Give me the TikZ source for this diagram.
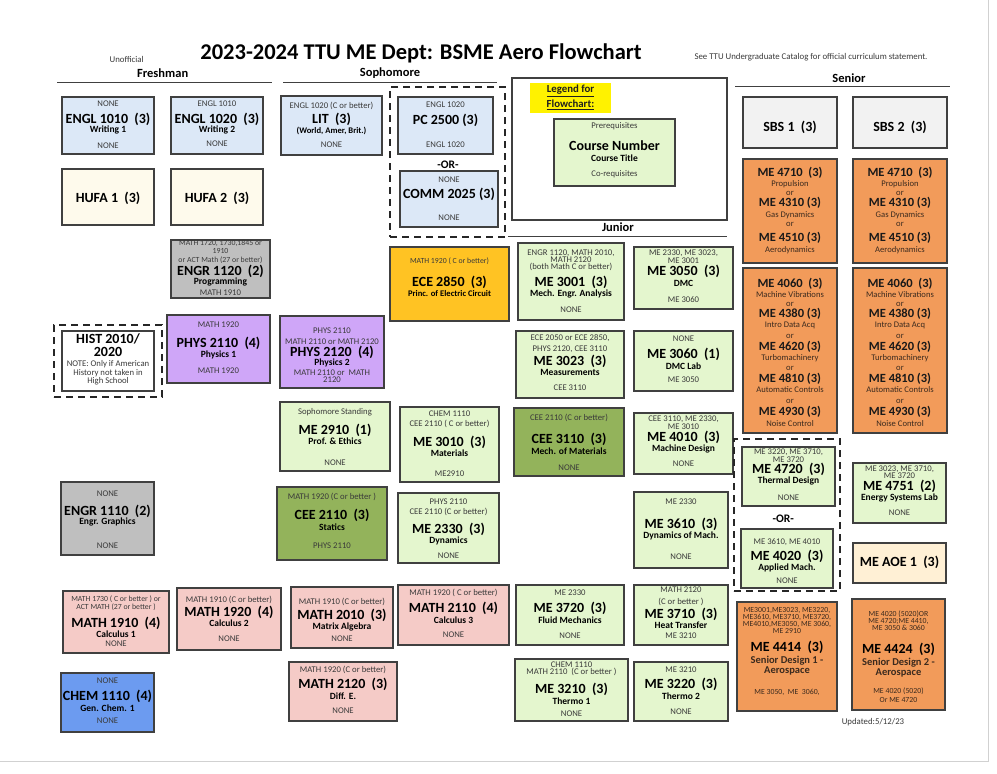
\documentclass[tikz,border=0pt]{standalone}
\usepackage{fontspec}
\setmainfont{Carlito}
\definecolor{blu}{HTML}{DCE8F7}
\definecolor{crm}{HTML}{FEFAEC}
\definecolor{gry}{HTML}{BFBFBF}
\definecolor{lav}{HTML}{CFA6F8}
\definecolor{gold}{HTML}{FFC323}
\definecolor{lgr}{HTML}{E4F6CE}
\definecolor{olv}{HTML}{93B35B}
\definecolor{pnk}{HTML}{F5CBC7}
\definecolor{chm}{HTML}{6C9BF0}
\definecolor{org}{HTML}{F29B5A}
\definecolor{sbs}{HTML}{F2F2F2}
\definecolor{aoe}{HTML}{FFF0D5}
\definecolor{bd}{HTML}{404040}
\definecolor{tg}{HTML}{3A3A3A}
\definecolor{tb}{HTML}{3B2A1E}
\newcounter{tn}
\newcommand\bx[6]{\node[box,fill=#6,minimum width={(#4-#2)*1pt},minimum height={(#5-#3)*1pt}] (#1) at ({(#2+#4)/2},{(#3+#5)/2}) {};}
\newcommand\dbx[5]{\node[dbox,minimum width={(#4-#2)*1pt},minimum height={(#5-#3)*1pt}] (#1) at ({(#2+#4)/2},{(#3+#5)/2}) {};}
\newcommand\tx[4]{\stepcounter{tn}\node[#1] (t\arabic{tn}) at (#2,#3) {#4};}
\tikzset{
  box/.style={draw=bd, line width=1.2pt, inner sep=0pt, outer sep=0pt},
  dbox/.style={draw=black!85, line width=1.3pt, dash pattern=on 7pt off 5pt, inner sep=0pt},
  pq/.style={font=\fontsize{8.7}{9}\selectfont, text=tg, inner sep=0pt},
  pqm/.style={text=tg, inner sep=0pt, align=center, font=\fontsize{8.7}{#1}\selectfont},
  pqs/.style={font=\fontsize{7.8}{8}\selectfont, text=tg, inner sep=0pt},
  pqsm/.style={text=tg, inner sep=0pt, align=center, font=\fontsize{7.8}{#1}\selectfont},
  pqom/.style={text=tb, inner sep=0pt, align=center, font=\fontsize{7.8}{#1}\selectfont},
  cn/.style={font=\fontsize{14}{15}\selectfont\bfseries, inner sep=0pt},
  cno/.style={font=\fontsize{12.5}{13}\selectfont\bfseries, text=black!90, inner sep=0pt},
  ct/.style={font=\fontsize{9.5}{10}\selectfont\bfseries, inner sep=0pt},
  cts/.style={font=\fontsize{8.6}{9}\selectfont\bfseries, inner sep=0pt},
  ctom/.style={text=tb, inner sep=0pt, align=center, font=\fontsize{10.5}{#1}\selectfont\bfseries},
  pom/.style={text=tb, inner sep=0pt, align=center, font=\fontsize{8.6}{#1}\selectfont},
  orr/.style={font=\fontsize{11.5}{12}\selectfont\bfseries, inner sep=0pt},
  leg/.style={font=\fontsize{10.8}{11}\selectfont\bfseries, text=black!88, inner sep=0pt},
  sm/.style={font=\fontsize{8.8}{9}\selectfont, text=tg, inner sep=0pt},
  yr/.style={font=\fontsize{12.5}{13}\selectfont\bfseries, inner sep=0pt},
  hd/.style={font=\fontsize{22.5}{24}\selectfont\bfseries, inner sep=0pt},
  hl/.style={draw=bd, line width=1.2pt},
}
\begin{document}
\begin{tikzpicture}[x=1pt,y=-1pt]
\useasboundingbox (0,0) rectangle (997,774);
\fill[white] (0,0) rectangle (997,774);
\draw[black!18, line width=1pt] (988,0) -- (988,761) -- (0,761);
% headers
\tx{hd}{421}{53}{2023-2024 TTU ME Dept: BSME Aero Flowchart}
\tx{sm}{126.7}{59}{Unofficial}
\tx{sm}{811}{57}{See TTU Undergraduate Catalog for official curriculum statement.}
\tx{yr}{162.7}{73.3}{Freshman}
\tx{yr}{390}{73.3}{Sophomore}
\tx{yr}{849}{77.7}{Senior}
\tx{yr}{618}{227}{Junior}
\draw[hl] (57,82.5) -- (272,82.5);
\draw[hl] (283,82.5) -- (497,82.5);
\draw[hl] (735,86.5) -- (950,86.5);
\draw[hl] (508,236.5) -- (727,236.5);
% Freshman
\bx{engl1010}{62}{97}{154}{154}{blu}
\tx{pq}{108}{104}{NONE}
\tx{cn}{108}{119}{ENGL 1010~~(3)}
\tx{ct}{108}{130}{Writing 1}
\tx{pq}{108}{146}{NONE}
\bx{engl1020}{171}{97}{263}{154}{blu}
\tx{pq}{217}{104}{ENGL 1010}
\tx{cn}{217}{119}{ENGL 1020~~(3)}
\tx{ct}{217}{130}{Writing 2}
\tx{pq}{217}{144}{NONE}
\bx{hufa1}{62}{169}{154}{225}{crm}
\tx{cn}{108}{198}{HUFA 1~~(3)}
\bx{hufa2}{171}{169}{263}{225}{crm}
\tx{cn}{217}{198}{HUFA 2~~(3)}
\bx{engr1120}{171}{240}{270}{298}{gry}
\tx{pqsm=8.5}{220.5}{251.5}{MATH 1720, 1730,1845 or\\1910\\or ACT Math (27 or better)}
\tx{cn}{220.5}{271.5}{ENGR 1120~~(2)}
\tx{ct}{220.5}{282}{Programming}
\tx{pq}{220.5}{292.5}{MATH 1910}
\dbx{histd}{54}{325}{162}{397}
\bx{hist}{62}{331}{154}{391}{white}
\tx{cn}{108}{339}{HIST 2010/}
\tx{cn}{108}{352.3}{2020}
\tx{pqm=7.2}{108}{372.8}{NOTE: Only if American\\History not taken in\\High School}
\bx{phys2110}{167}{315}{270}{383}{lav}
\tx{pq}{218.5}{324.3}{MATH 1920}
\tx{cn}{218.5}{343.3}{PHYS 2110~~(4)}
\tx{ct}{218.5}{354.5}{Physics 1}
\tx{pq}{218.5}{371}{MATH 1920}
\bx{engr1110}{61}{482}{154}{555}{gry}
\tx{pq}{107.5}{494}{NONE}
\tx{cn}{107.5}{511}{ENGR 1110~~(2)}
\tx{ct}{107.5}{522}{Engr. Graphics}
\tx{pq}{107.5}{546}{NONE}
\bx{math1910}{63}{591}{169}{653}{pnk}
\tx{pqsm=5.9}{116}{602.8}{MATH 1730 ( C or better ) or\\ACT MATH (27 or better )}
\tx{cn}{116}{623.3}{MATH 1910~~(4)}
\tx{ct}{116}{634.3}{Calculus 1}
\tx{pq}{116}{644}{NONE}
\bx{math1920}{177}{588}{281}{650}{pnk}
\tx{pq}{229}{600}{MATH 1910 (C or better)}
\tx{cn}{229}{612.3}{MATH 1920~~(4)}
\tx{ct}{229}{623.3}{Calculus 2}
\tx{pq}{229}{638.3}{NONE}
\bx{chem1110}{61}{673}{154}{732}{chm}
\tx{pq}{107.5}{681}{NONE}
\tx{cn}{107.5}{696.7}{CHEM 1110~~(4)}
\tx{ct}{107.5}{707.7}{Gen. Chem. 1}
\tx{pq}{107.5}{721}{NONE}
% Sophomore
\bx{lit}{281}{96}{382}{155}{blu}
\tx{pq}{331.5}{105.5}{ENGL 1020 (C or better)}
\tx{cn}{331.5}{119}{LIT~~(3)}
\tx{cts}{331.5}{130.5}{(World, Amer, Brit.)}
\tx{pq}{331.5}{144.3}{NONE}
\dbx{commd}{390}{87}{505}{237}
\bx{pc2500}{398}{97}{493}{154}{blu}
\tx{pq}{445.5}{104.3}{ENGL 1020}
\tx{cn}{445.5}{120.7}{PC 2500 (3)}
\tx{pq}{445.5}{144.3}{ENGL 1020}
\tx{orr}{448}{164.3}{-OR-}
\bx{comm2025}{400}{171}{498}{227}{blu}
\tx{pq}{449}{179.3}{NONE}
\tx{cn}{449}{194}{COMM 2025 (3)}
\tx{pq}{449}{217.3}{NONE}
\bx{ece2850}{390}{247}{509}{321}{gold}
\tx{pqs}{449.5}{260.7}{MATH 1920 ( C or better)}
\tx{cn}{449.5}{282.3}{ECE 2850~~(3)}
\tx{cts}{449.5}{294}{Princ. of Electric Circuit}
\bx{phys2120}{280}{316}{384}{388}{lav}
\tx{pq}{332}{330.5}{PHYS 2110}
\tx{pq}{332}{341.5}{MATH 2110 or MATH 2120}
\tx{cn}{332}{352.3}{PHYS 2120~~(4)}
\tx{ct}{332}{362.7}{Physics 2}
\tx{pqm=7.3}{332}{376.4}{MATH 2110 or~ MATH\\2120}
\bx{me2910}{280}{402}{390}{471}{lgr}
\tx{pq}{335}{412.7}{Sophomore Standing}
\tx{cn}{335}{430.7}{ME 2910~~(1)}
\tx{ct}{335}{441.5}{Prof. \& Ethics}
\tx{pq}{335}{462.3}{NONE}
\bx{me3010}{400}{407}{499}{482}{lgr}
\tx{pq}{449.5}{414}{CHEM 1110}
\tx{pq}{449.5}{424.3}{CEE 2110 ( C or better)}
\tx{cn}{449.5}{442}{ME 3010~~(3)}
\tx{ct}{449.5}{453.5}{Materials}
\tx{pq}{449.5}{473.3}{ME2910}
\bx{cee2110}{277}{487}{387}{560}{olv}
\tx{pq}{332}{496.7}{MATH 1920 (C or better )}
\tx{cn}{332}{515.5}{CEE 2110~~(3)}
\tx{ct}{332}{527}{Statics}
\tx{pq}{332}{545.7}{PHYS 2110}
\bx{me2330}{398}{493}{499}{563}{lgr}
\tx{pq}{448.5}{501.7}{PHYS 2110}
\tx{pq}{448.5}{512.3}{CEE 2110 (C or better)}
\tx{cn}{448.5}{529.5}{ME 2330~~(3)}
\tx{ct}{448.5}{541}{Dynamics}
\tx{pq}{448.5}{556}{NONE}
\bx{math2010}{291}{587}{393}{648}{pnk}
\tx{pq}{342}{602.3}{MATH 1910 (C or better)}
\tx{cn}{342}{615}{MATH 2010~~(3)}
\tx{ct}{342}{626.7}{Matrix Algebra}
\tx{pq}{342}{639}{NONE}
\bx{math2110}{398}{585}{509}{645}{pnk}
\tx{pq}{453.5}{592.7}{MATH 1920 ( C or better)}
\tx{cn}{453.5}{608.3}{MATH 2110~~(4)}
\tx{ct}{453.5}{620}{Calculus 3}
\tx{pq}{453.5}{635}{NONE}
\bx{math2120}{289}{662}{397}{721}{pnk}
\tx{pq}{343}{670}{MATH 1920 (C or better)}
\tx{cn}{343}{684.3}{MATH 2120~~(3)}
\tx{ct}{343}{696}{Diff. E.}
\tx{pq}{343}{710.7}{NONE}
% Legend
\node[draw=bd, line width=2.5pt, fill=white, minimum width=215pt, minimum height=142pt, inner sep=0pt] (legend) at (619.5,149) {};
\node[fill=yellow, minimum width=81pt, minimum height=30pt, inner sep=0pt] (legtag) at (570.5,98) {};
\tx{leg}{570.5}{91}{\underline{Legend for}}
\tx{leg}{570.5}{105}{\underline{Flowchart:}}
\bx{legbox}{554}{119}{675}{186}{lgr}
\tx{pq}{614.5}{126.7}{Prerequisites}
\tx{cn}{614.5}{146}{Course Number}
\tx{ct}{614.5}{157.7}{Course Title}
\tx{pq}{614.5}{174.3}{Co-requisites}
% Junior
\bx{me3001}{518}{243}{624}{320}{lgr}
\tx{pqm=7}{571}{260}{ENGR 1120, MATH 2010,\\MATH 2120\\(both Math C or better)}
\tx{cn}{571}{282.3}{ME 3001~~(3)}
\tx{ct}{571}{294}{Mech. Engr. Analysis}
\tx{pq}{571}{309.3}{NONE}
\bx{me3050}{634}{247}{733}{309}{lgr}
\tx{pqm=6.5}{683.5}{256.4}{ME 2330, ME 3023,\\ME 3001}
\tx{cn}{683.5}{271.7}{ME 3050~~(3)}
\tx{ct}{683.5}{283.3}{DMC}
\tx{pq}{683.5}{300}{ME 3060}
\bx{me3023}{516}{331}{624}{398}{lgr}
\tx{pq}{570}{338.3}{ECE 2050 or ECE 2850,}
\tx{pq}{570}{349.5}{PHYS 2120, CEE 3110}
\tx{cn}{570}{361}{ME 3023~~(3)}
\tx{ct}{570}{372.3}{Measurements}
\tx{pq}{570}{387.3}{CEE 3110}
\bx{me3060}{634}{331}{733}{391}{lgr}
\tx{pq}{683.5}{338.3}{NONE}
\tx{cn}{683.5}{354}{ME 3060~~(1)}
\tx{ct}{683.5}{365.7}{DMC Lab}
\tx{pq}{683.5}{380}{ME 3050}
\bx{cee3110}{514}{408}{624}{476}{olv}
\tx{pq}{569}{417.7}{CEE 2110 (C or better)}
\tx{cn}{569}{439}{CEE 3110~~(3)}
\tx{ct}{569}{450.7}{Mech. of Materials}
\tx{pq}{569}{467.7}{NONE}
\bx{me4010}{634}{413}{733}{474}{lgr}
\tx{pqm=6.5}{683.5}{423}{CEE 3110, ME 2330,\\ME 3010}
\tx{cn}{683.5}{437}{ME 4010~~(3)}
\tx{ct}{683.5}{448.5}{Machine Design}
\tx{pq}{683.5}{464}{NONE}
\bx{me3610}{634}{492}{728}{568}{lgr}
\tx{pq}{681}{501.7}{ME 2330}
\tx{cn}{681}{524}{ME 3610~~(3)}
\tx{ct}{681}{535.7}{Dynamics of Mach.}
\tx{pq}{681}{557}{NONE}
\bx{me3720}{516}{585}{624}{645}{lgr}
\tx{pq}{570}{592.7}{ME 2330}
\tx{cn}{570}{608.3}{ME 3720~~(3)}
\tx{ct}{570}{620}{Fluid Mechanics}
\tx{pq}{570}{635.7}{NONE}
\bx{me3710}{634}{585}{728}{645}{lgr}
\tx{pq}{681}{590}{MATH 2120}
\tx{pq}{681}{601.7}{(C or better )}
\tx{cn}{681}{614}{ME 3710~~(3)}
\tx{ct}{681}{625.5}{Heat Transfer}
\tx{pq}{681}{636}{ME 3210}
\bx{me3210}{515}{659}{628}{721}{lgr}
\tx{pqm=7.6}{571.5}{668.6}{CHEM 1110\\MATH 2110~ (C or better )}
\tx{cn}{571.5}{689.3}{ME 3210~~(3)}
\tx{ct}{571.5}{701}{Thermo 1}
\tx{pq}{571.5}{714}{NONE}
\bx{me3220}{634}{662}{728}{721}{lgr}
\tx{pq}{681}{670}{ME 3210}
\tx{cn}{681}{684}{ME 3220~~(3)}
\tx{ct}{681}{695.7}{Thermo 2}
\tx{pq}{681}{711.7}{NONE}
% Senior
\bx{sbs1}{743}{97}{837}{148}{sbs}
\tx{cn}{790}{127.3}{SBS 1~~(3)}
\bx{sbs2}{853}{97}{947}{148}{sbs}
\tx{cn}{900}{127.3}{SBS 2~~(3)}
\foreach \cx/\xa/\xb in {790/743/837, 900/853/947}{
  \bx{oa\cx}{\xa}{159}{\xb}{263}{org}
  \tx{cno}{\cx}{172.7}{ME 4710~~(3)}
  \tx{pom=8.7}{\cx}{188.3}{Propulsion\\or}
  \tx{cno}{\cx}{203.3}{ME 4310 (3)}
  \tx{pom=9}{\cx}{218.8}{Gas Dynamics\\or}
  \tx{cno}{\cx}{238.3}{ME 4510 (3)}
  \tx{pom=9}{\cx}{250.7}{Aerodynamics}
  \bx{ob\cx}{\xa}{268}{\xb}{433}{org}
  \tx{cno}{\cx}{284.3}{ME 4060~~(3)}
  \tx{pom=9}{\cx}{298.8}{Machine Vibrations\\or}
  \tx{cno}{\cx}{314.3}{ME 4380 (3)}
  \tx{pom=11}{\cx}{330.5}{Intro Data Acq\\or}
  \tx{cno}{\cx}{347.3}{ME 4620 (3)}
  \tx{pom=10}{\cx}{362.3}{Turbomachinery\\or}
  \tx{cno}{\cx}{378.7}{ME 4810 (3)}
  \tx{pom=11.4}{\cx}{395}{Automatic Controls\\or}
  \tx{cno}{\cx}{411.7}{ME 4930 (3)}
  \tx{pom=9}{\cx}{423.3}{Noise Control}
}
\dbx{med}{734}{439}{840}{591}
\bx{me4720}{742}{447}{835}{506}{lgr}
\tx{pqm=6.7}{788.5}{455.7}{ME 3220, ME 3710,\\ME 3720}
\tx{cn}{788.5}{469.5}{ME 4720~~(3)}
\tx{ct}{788.5}{481}{Thermal Design}
\tx{pq}{788.5}{497.7}{NONE}
\tx{orr}{783.3}{518.3}{-OR-}
\bx{me4020}{741}{529}{833}{588}{lgr}
\tx{pq}{787}{541.7}{ME 3610, ME 4010}
\tx{cn}{787}{556.7}{ME 4020~~(3)}
\tx{ct}{787}{567.5}{Applied Mach.}
\tx{pq}{787}{581}{NONE}
\bx{me4751}{853}{463}{946}{523}{lgr}
\tx{pqm=6.7}{899.5}{472.3}{ME 3023, ME 3710,\\ME 3720}
\tx{cn}{899.5}{486.7}{ME 4751~~(2)}
\tx{ct}{899.5}{498.3}{Energy Systems Lab}
\tx{pq}{899.5}{512.3}{NONE}
\bx{aoe1}{853}{543}{946}{583}{aoe}
\tx{cn}{899.5}{562.7}{ME AOE 1~~(3)}
\bx{me4414}{737}{602}{837}{711}{org}
\tx{pqom=5.6}{787}{620.6}{ME3001,ME3023, ME3220,\\ME3610, ME3710, ME3720,\\ME4010,ME3050, ME 3060,\\ME 2910}
\tx{cn}{787}{647}{ME 4414~~(3)}
\tx{ctom=9.5}{787}{665.5}{Senior Design 1 -\\Aerospace}
\tx{pqom=8}{787}{692.7}{ME 3050,~ ME~ 3060,}
\bx{me4424}{852}{599}{945}{710}{org}
\tx{pqom=5.85}{898.5}{620.8}{ME 4020 (5020)OR\\ME 4720;ME 4410,\\ME 3050 \& 3060}
\tx{cn}{898.5}{649.5}{ME 4424~~(3)}
\tx{ctom=9.7}{898.5}{667.6}{Senior Design 2 -\\Aerospace}
\tx{pqom=9}{898.5}{695.5}{ME 4020 (5020)\\Or ME 4720}
\tx{sm}{873}{722}{Updated:5/12/23}
\end{tikzpicture}
\end{document}
